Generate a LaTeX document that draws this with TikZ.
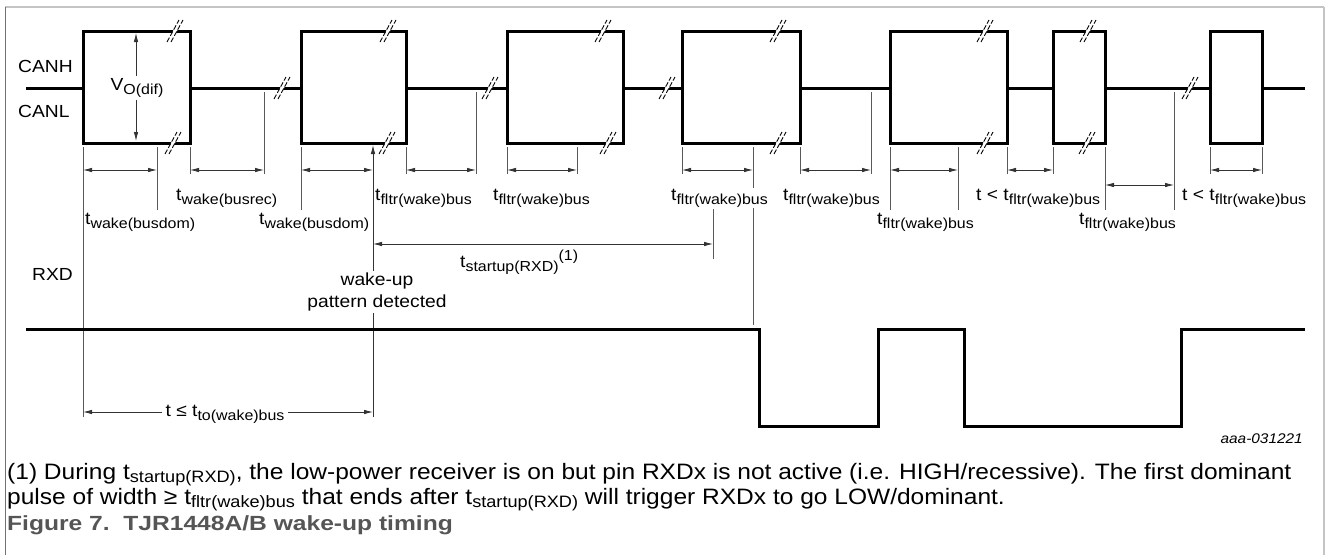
\documentclass[tikz,border=0pt]{standalone}
\usepackage{fontspec}
\setmainfont{Liberation Sans}[FakeStretch=1.1]
\newfontfamily\capfont{Liberation Sans}[FakeStretch=1.2]
\usetikzlibrary{arrows.meta}
\definecolor{capgray}{HTML}{555555}
\definecolor{framegray}{HTML}{C4C4C4}
\newcommand{\lsub}[1]{\raisebox{-4pt}{\fontsize{14.5}{14}\selectfont #1}}
\newcommand{\lsup}[1]{\raisebox{7pt}{\fontsize{14.5}{14}\selectfont #1}}
\newcommand{\nsub}[1]{\raisebox{-3.5pt}{\fontsize{16.5}{14}\selectfont #1}}

\begin{document}
\begin{tikzpicture}[
  x=1pt, y=-1pt,
  >={Latex[length=9pt,width=4.5pt]},
  sig/.style={line width=3pt},
  ext/.style={line width=0.8pt, black!65},
  dimarr/.style={<->, line width=0.8pt, black!80},
  lbl/.style={font=\fontsize{17.5}{20}\selectfont, inner sep=0pt, anchor=base west},
  cover/.style={fill=white, inner sep=2pt},
  brkline/.style={line width=0.9pt, dash pattern=on 5pt off 2pt},
  brkmark/.pic={
    \fill[white] (-4,4) -- (0,-4) -- (4,-4) -- (0,4) -- cycle;
    \draw[brkline] (-8,11) -- (4,-11);
    \draw[brkline] (-4,11) -- (8,-11);
  },
]
  \useasboundingbox (0,0) rectangle (1328,555);
  % --- frame -------------------------------------------------------
  \draw[framegray, line width=1.6pt] (5,7) -- (1324,7);
  \draw[black!55, line width=0.8pt] (5,7) -- (5,555);
  \draw[framegray, line width=1.6pt] (1324,7) -- (1324,555);

  % --- signal names ------------------------------------------------
  \node[lbl] (canh) at (18,72) {CANH};
  \node[lbl] (canl) at (18,117) {CANL};
  \node[lbl] (rxd) at (32,280) {RXD};

  % --- CAN bus pulses ----------------------------------------------
  \foreach \l/\r in {26/83, 190/301, 406/507, 623/682, 800/890, 1007/1053, 1105/1210, 1262/1305}
    \draw[sig] (\l,88) -- (\r,88);
  \foreach \l/\r in {83/190, 301/406, 507/623, 682/800, 890/1007, 1053/1105, 1210/1262}
    \draw[sig] (\l,31) rectangle (\r,143);
  \foreach \x/\y in {175/31, 173/143, 282/88, 388/31, 387/143, 490/88, 603/31, 608/143,
                     667/88, 778/31, 778/143, 985/31, 985/143, 1088/31, 1087/143, 1190/88}
    \pic at (\x,\y) {brkmark};

  % --- V_O(dif) ----------------------------------------------------
  \draw[dimarr] (136,33) -- (136,141);
  \node[cover, font=\fontsize{17.5}{20}\selectfont] (vodif) at (137,88) {V\lsub{O(dif)}};

  % --- extension lines ---------------------------------------------
  \foreach \x/\a/\b in {83/147/417, 157/147/210, 190/147/174, 264/92/174, 301/147/210,
                        406/147/174, 476/92/174, 507/147/174, 577/147/174, 682/147/174,
                        753/147/325, 800/147/174, 871/92/174, 890/147/210, 958/147/210,
                        1007/147/174, 1053/147/174, 1105/147/210, 1174/92/210,
                        1210/147/174, 1262/147/174, 713/209/259}
    \draw[ext] (\x,\a) -- (\x,\b);
  \draw[->, line width=0.8pt, black!80] (373,417) -- (373,145);

  % --- time intervals ----------------------------------------------
  \foreach \l/\r in {83/157, 190/264, 301/373, 406/476, 507/577, 682/753, 800/871,
                     890/958, 1007/1053, 1210/1262}
    \draw[dimarr] (\l,170) -- (\r,170);
  \draw[dimarr] (1105,185) -- (1174,185);
  \draw[dimarr] (373,244) -- (713,244);
  \draw[dimarr] (83,412) -- (373,412);

  % --- interval labels ---------------------------------------------
  \node[lbl] (tdom1) at (85,224) {t\lsub{wake(busdom)}};
  \node[lbl] (trec) at (176,200) {t\lsub{wake(busrec)}};
  \node[lbl] (tdom2) at (259,224) {t\lsub{wake(busdom)}};
  \node[lbl] (tf1) at (375,200) {t\lsub{fltr(wake)bus}};
  \node[lbl] (tf2) at (493,200) {t\lsub{fltr(wake)bus}};
  \node[lbl, cover, inner sep=1pt] (tf3) at (670,200) {t\lsub{fltr(wake)bus}};
  \node[lbl] (tf4) at (783,200) {t\lsub{fltr(wake)bus}};
  \node[lbl] (tf5) at (877,224) {t\lsub{fltr(wake)bus}};
  \node[lbl] (tlt1) at (976,200) {t < t\lsub{fltr(wake)bus}};
  \node[lbl] (tf6) at (1079,224) {t\lsub{fltr(wake)bus}};
  \node[lbl] (tlt2) at (1182,200) {t < t\lsub{fltr(wake)bus}};
  \node[lbl] (tstart) at (460,267) {t\lsub{startup(RXD)}\lsup{(1)}};
  \node[cover, font=\fontsize{17.5}{22}\selectfont, align=center] (wake) at (377,292)
    {wake-up\\pattern detected};
  \node[cover, inner sep=4pt, font=\fontsize{17.5}{20}\selectfont] (tto) at (225,414)
    {t \char"2264{} t\lsub{to(wake)bus}};

  % --- RXD ---------------------------------------------------------
  \draw[sig] (26,329) -- (759,329) -- (759,426) -- (878,426) -- (878,329) -- (964,329)
    -- (964,426) -- (1181,426) -- (1181,329) -- (1305,329);
  \node[font=\itshape\fontsize{14}{18}\selectfont, anchor=base east, inner sep=0pt]
    (code) at (1303,443) {aaa-031221};

  % --- note and caption --------------------------------------------
  \node[lbl, font=\fontsize{22.3}{24}\selectfont] (note1) at (7,479)
    {(1) During t\nsub{startup(RXD)}, the low-power receiver is on but pin RXDx is not active (i.e. HIGH/recessive). The first dominant};
  \node[lbl, font=\fontsize{22.3}{24}\selectfont] (note2) at (7,504)
    {pulse of width \char"2265{} t\nsub{fltr(wake)bus} that ends after t\nsub{startup(RXD)} will trigger RXDx to go LOW/dominant.};
  \node[lbl, font=\capfont\bfseries\fontsize{20.5}{22}\selectfont, text=capgray] (cap) at (7,530)
    {Figure 7.\ \ TJR1448A/B wake-up timing};
\end{tikzpicture}
\end{document}
